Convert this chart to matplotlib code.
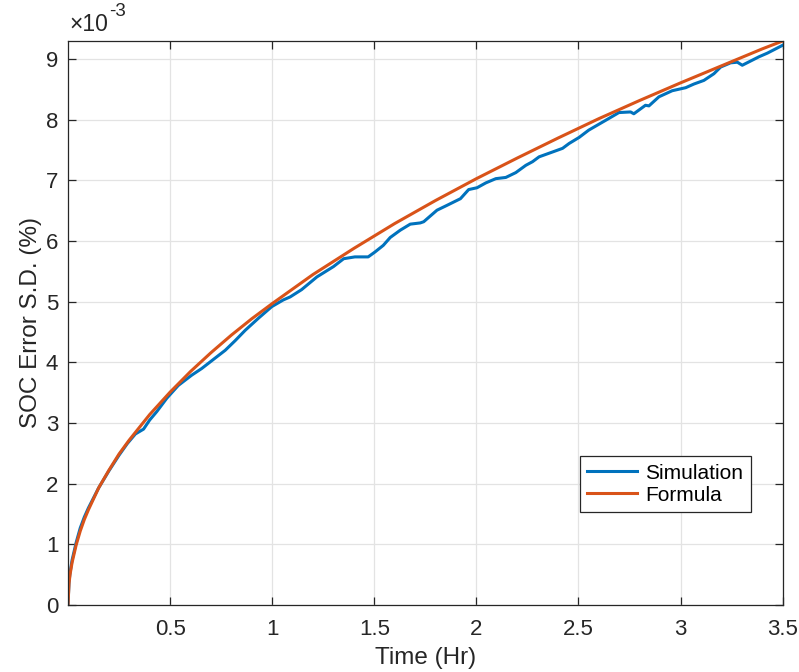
import numpy as np
import matplotlib
matplotlib.use("Agg")
import matplotlib.pyplot as plt

plt.rcParams['font.family'] = ['Liberation Sans', 'DejaVu Sans']

BLUE = "#0072BD"
ORANGE = "#D95319"
DARK = "#262626"

# values, y in units of 1e-3 %
sim_time = [0, 0.005, 0.01, 0.02, 0.04, 0.06, 0.08, 0.10, 0.15, 0.20,
            0.25, 0.29, 0.33, 0.37, 0.40, 0.435, 0.484, 0.54, 0.606, 0.655,
            0.72, 0.77, 0.819, 0.868, 0.933, 0.998, 1.054, 1.088, 1.144, 1.219,
            1.30, 1.35, 1.405, 1.47, 1.503, 1.544, 1.578, 1.627, 1.676, 1.725,
            1.742, 1.807, 1.856, 1.922, 1.962, 2.003, 2.046, 2.095, 2.144, 2.193,
            2.242, 2.275, 2.307, 2.373, 2.422, 2.454, 2.503, 2.55, 2.632, 2.698,
            2.755, 2.771, 2.828, 2.845, 2.894, 2.959, 3.025, 3.065, 3.114, 3.163,
            3.196, 3.245, 3.278, 3.302, 3.343, 3.384, 3.425, 3.5]
sim_sd = [0, 0.38, 0.53, 0.74, 1.03, 1.27, 1.45, 1.60, 1.93, 2.21,
          2.47, 2.66, 2.82, 2.90, 3.05, 3.19, 3.41, 3.62, 3.79, 3.90,
          4.07, 4.20, 4.36, 4.53, 4.73, 4.92, 5.03, 5.08, 5.20, 5.41,
          5.58, 5.71, 5.74, 5.74, 5.82, 5.93, 6.06, 6.18, 6.28, 6.30,
          6.32, 6.51, 6.59, 6.70, 6.85, 6.88, 6.96, 7.03, 7.05, 7.13,
          7.25, 7.31, 7.39, 7.47, 7.53, 7.61, 7.71, 7.83, 7.99, 8.12,
          8.13, 8.10, 8.24, 8.23, 8.38, 8.48, 8.53, 8.59, 8.65, 8.76,
          8.87, 8.94, 8.95, 8.90, 8.97, 9.04, 9.10, 9.23]

formula_time = [0, 0.005, 0.01, 0.02, 0.04, 0.06, 0.08, 0.1, 0.15, 0.2,
                0.25, 0.3, 0.4, 0.5, 0.6, 0.7, 0.8, 0.9, 1.0, 1.2,
                1.4, 1.6, 1.8, 2.0, 2.2, 2.4, 2.6, 2.8, 3.0, 3.2,
                3.4, 3.5]
formula_sd = [0, 0.35, 0.50, 0.70, 0.99, 1.22, 1.41, 1.57, 1.93, 2.22,
              2.49, 2.72, 3.14, 3.51, 3.85, 4.16, 4.45, 4.72, 4.97, 5.45,
              5.88, 6.29, 6.67, 7.03, 7.37, 7.70, 8.02, 8.32, 8.61, 8.89,
              9.17, 9.30]

x_ticks = [0.5, 1, 1.5, 2, 2.5, 3, 3.5]
x_tick_labels = ["0.5", "1", "1.5", "2", "2.5", "3", "3.5"]
y_ticks = [0, 1, 2, 3, 4, 5, 6, 7, 8, 9]

fig = plt.figure(figsize=(7.99, 6.72), dpi=100)
ax = fig.add_axes([0.0851, 0.0997, 0.8945, 0.8393])

ax.plot(sim_time, sim_sd, color=BLUE, lw=2.2, label="Simulation")
ax.plot(formula_time, formula_sd, color=ORANGE, lw=2.2, label="Formula")

ax.set_xlim(0, 3.5)
ax.set_ylim(0, 9.3)
ax.set_xticks(x_ticks)
ax.set_xticklabels(x_tick_labels)
ax.set_yticks(y_ticks)
ax.grid(True, color="#e3e3e3", lw=0.9)
ax.set_axisbelow(True)

ax.tick_params(direction="in", length=6, width=0.9, top=True, right=True,
               labelsize=16, colors=DARK, pad=7)
ax.tick_params(axis="x", pad=10)
for sp in ax.spines.values():
    sp.set_color(DARK)
    sp.set_linewidth(0.9)

ax.set_xlabel("Time (Hr)", fontsize=17.5, color=DARK, labelpad=5)
ax.set_ylabel("SOC Error S.D. (%)", fontsize=17.5, color=DARK, labelpad=3)

ax.text(0.002, 1.008, "\u00d710", transform=ax.transAxes, fontsize=16.5,
        color=DARK, ha="left", va="bottom")
ax.text(0.058, 1.037, "-3", transform=ax.transAxes, fontsize=13.5,
        color=DARK, ha="left", va="bottom")

leg = ax.legend(loc="lower left", bbox_to_anchor=(0.716, 0.165), fontsize=15,
                frameon=True, fancybox=False, framealpha=1, edgecolor=DARK,
                handlelength=2.4, borderpad=0.35, labelspacing=0.15,
                handletextpad=0.4, borderaxespad=0)
leg.get_frame().set_linewidth(0.9)

fig.savefig("out.png", dpi=100)
